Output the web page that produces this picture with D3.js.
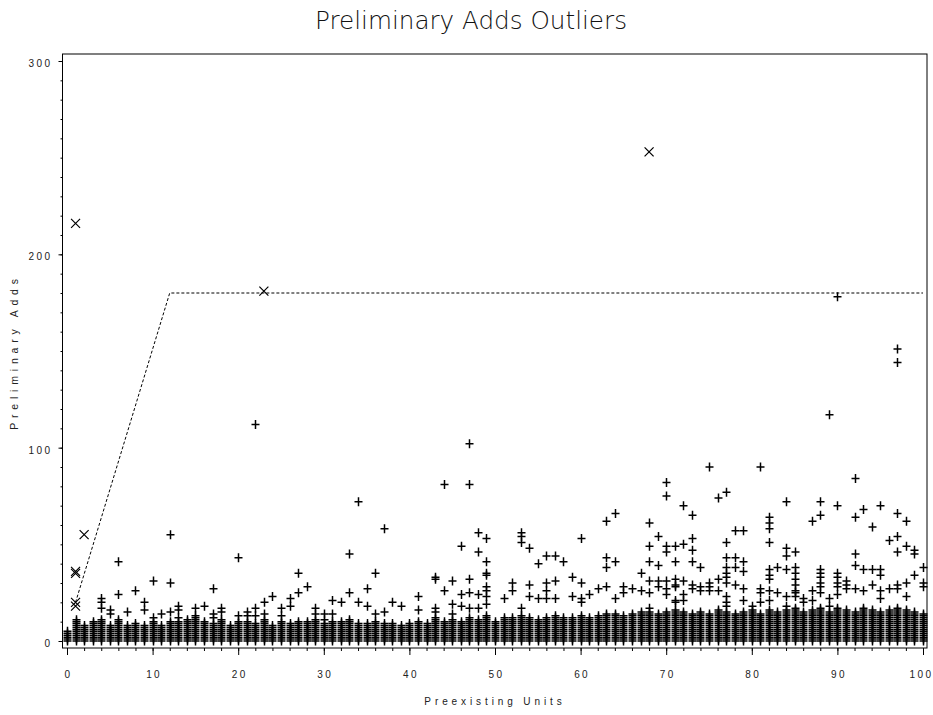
<!DOCTYPE html>
<html>
<head>
<meta charset="utf-8">
<script src="https://cdn.jsdelivr.net/npm/d3@7"></script>
<style>
  body { margin: 0; background: #fff; }
  svg text { font-family: "Liberation Sans", Arial, sans-serif; fill: #222; }
</style>
</head>
<body>
<svg id="chart" width="933" height="715"></svg>
<script>
// Preexisting Units 0..100, each column is a solid stack of integer adds from 0 to stackTop
const units = d3.range(0, 101);
const stackTop = [5,11,8,10,11,8,11,8,9,8,10,8,10,10,11,12,10,
  9,11,8,10,10,9,11,8,10,9,10,10,11,9,10,10,11,
  9,9,10,9,9,8,9,10,9,12,10,11,10,12,11,13,10,
  12,12,13,12,11,12,13,12,12,13,12,13,14,14,13,14,15,
  15,14,15,16,15,14,15,14,16,15,14,15,16,14,16,15,16,
  17,15,16,17,15,17,16,15,17,16,15,16,17,16,15,14];

// scattered adds above the stacks, indexed by preexisting units
const upperAdds = [
  [], [], [], [], [22,20,17], [16,14], [41,24], [15], [26], [20,16],
  [31,12], [14], [55,30,15], [18,16,12], [], [17,13], [18], [27,14,12], [17,15], [],
  [43,13], [15,13], [112,17,13], [20,14], [23], [17,13], [22,18], [35,25], [28], [17,14],
  [14,11], [21,14], [20], [45,25], [72,20], [27,18], [35,14], [58,15], [20], [18],
  [], [23,16], [], [33,32,17,15], [81,26], [31,19,14], [49,24,18], [102,81,32,25,17], [56,46,24,17], [53,41,35,34,28,26,23,19],
  [], [22], [30,26], [56,54,51,17], [48,29,23], [40,22], [44,30,26,22], [44,31,22], [41], [33,23],
  [53,30,22,20], [24], [27], [62,43,38,28], [66,41,22], [28,25], [27], [35,26], [61,49,41,31,25,17], [54,39,31,28],
  [82,75,49,46,31,27,24], [49,41,32,29,28,21,20], [70,50,31,24,21], [65,53,47,41,29,27], [38,28,26], [90,30,28,26], [74,32,26], [77,51,43,38,35,33,30,23,20,18], [57,43,38,29], [57,41,36,27,21],
  [18], [90,27,25,20], [64,61,58,51,37,34,32,26,21], [38,25], [72,48,44,37,23,18], [46,38,35,32,29,26,25,23], [22,20], [62,26,21], [72,65,37,35,33,30,28,25], [117,22,18],
  [178,70,35,33,30,28,24], [31,29,27], [84,64,45,39,27], [68,37,26], [59,37,29], [70,37,34,26,22], [52,27], [151,144,66,54,46,29,27], [62,49,30,23], [47,45,34],
  [38,30,28]
];

// points flagged as outliers (above the cutoff)
const outlierUnits = [1, 1, 1, 1, 1, 2, 23, 68];
const outlierAdds  = [216, 36, 35, 20, 18, 55, 181, 253];

// cutoff line
const cutoffUnits = [1, 12, 100];
const cutoffAdds  = [20, 180, 180];

const xMajor = [0,10,20,30,40,50,60,70,80,90,100];
const yMajor = [0,100,200,300];

const svg = d3.select("#chart");
const frameL = 62.5, frameR = 927, frameT = 54, frameB = 648;

const x = d3.scaleLinear().domain([0, 100]).range([67, 923]);
const y = d3.scaleLinear().domain([0, 300]).range([641, 61]);

// build point list
const points = [];
units.forEach(u => {
  for (let v = 0; v <= stackTop[u]; v++) points.push([u, v]);
  upperAdds[u].forEach(v => points.push([u, v]));
});

// title
svg.append("text")
  .attr("x", 471).attr("y", 28.5)
  .attr("text-anchor", "middle")
  .attr("font-size", "25px")
  .attr("font-weight", 200)
  .attr("textLength", 312).attr("lengthAdjust", "spacingAndGlyphs")
  .style("font-family", "'DejaVu Sans', sans-serif")
  .style("fill", "#111")
  .text("Preliminary Adds Outliers");

// frame
svg.append("rect")
  .attr("x", frameL).attr("y", frameT)
  .attr("width", frameR - frameL).attr("height", frameB - frameT)
  .attr("fill", "none").attr("stroke", "#000").attr("stroke-width", 1);

// x axis
const xAxis = svg.append("g").attr("transform", `translate(0,${frameB})`)
  .call(d3.axisBottom(x).tickValues(xMajor).tickSize(7).tickPadding(16));
svg.append("g").attr("transform", `translate(0,${frameB})`)
  .call(d3.axisBottom(x).tickValues(d3.range(0, 101, 2)).tickSize(3).tickFormat(""));

// y axis
const yAxis = svg.append("g").attr("transform", `translate(${frameL},0)`)
  .call(d3.axisLeft(y).tickValues(yMajor).tickSize(4).tickPadding(8));
svg.append("g").attr("transform", `translate(${frameL},0)`)
  .call(d3.axisLeft(y).tickValues(d3.range(0, 301, 10)).tickSize(2).tickFormat(""));

svg.selectAll(".domain").remove();
svg.selectAll(".tick line").attr("stroke", "#000");
svg.selectAll(".tick text")
  .attr("font-size", "10px")
  .style("letter-spacing", "2.4px")
  .attr("fill", "#222");
xAxis.selectAll(".tick text").attr("dx", "1px");
xAxis.selectAll(".tick:last-of-type text").attr("dx", "-2px");
yAxis.selectAll(".tick text").attr("dy", "0.55em").attr("dx", "2px");

// axis titles
svg.append("text")
  .attr("x", 495).attr("y", 705)
  .attr("text-anchor", "middle")
  .attr("font-size", "10px")
  .style("letter-spacing", "3.9px")
  .text("Preexisting Units");

svg.append("text")
  .attr("transform", "translate(18,352) rotate(-90)")
  .attr("text-anchor", "middle")
  .attr("font-size", "10.5px")
  .style("letter-spacing", "4.8px")
  .text("Preliminary Adds");

// cutoff dashed line
const cutoff = cutoffUnits.map((u, i) => [u, cutoffAdds[i]]);
svg.append("path")
  .attr("d", d3.line().x(d => x(d[0])).y(d => y(d[1]))(cutoff))
  .attr("fill", "none").attr("stroke", "#000")
  .attr("stroke-width", 1).attr("stroke-dasharray", "3,2");

// plus markers
svg.append("g").selectAll("path")
  .data(points)
  .join("path")
  .attr("transform", d => `translate(${Math.round(x(d[0])) + 0.5},${y(d[1])})`)
  .attr("d", "M-4,0H4M0,-4.5V4.5")
  .attr("stroke", "#000").attr("stroke-width", 1.5).attr("fill", "none");

// outlier x markers
svg.append("g").selectAll("path")
  .data(outlierUnits.map((u, i) => [u, outlierAdds[i]]))
  .join("path")
  .attr("transform", d => `translate(${x(d[0])},${y(d[1])})`)
  .attr("d", "M-4.5,-4.5L4.5,4.5M-4.5,4.5L4.5,-4.5")
  .attr("stroke", "#000").attr("stroke-width", 1.2).attr("fill", "none");
</script>
</body>
</html>
